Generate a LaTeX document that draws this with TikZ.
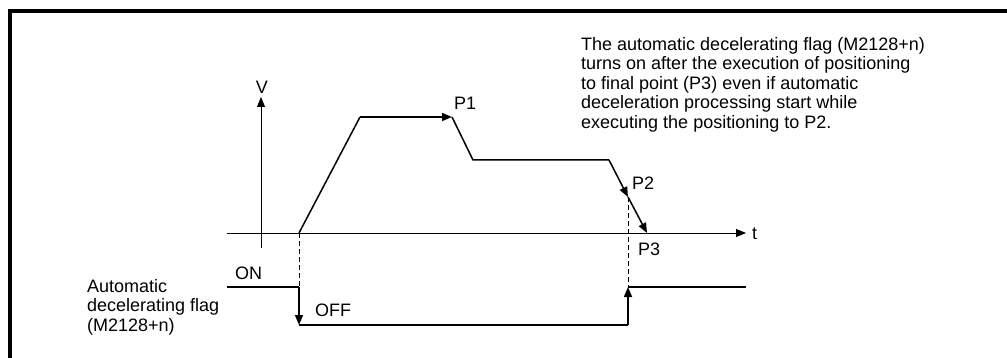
\documentclass[tikz,border=0pt]{standalone}
\usepackage{fontspec}
\setmainfont{Liberation Sans}
\usetikzlibrary{arrows.meta}
\begin{document}
\begin{tikzpicture}[x=1pt,y=-1pt,
  lbl/.style={inner sep=0pt,font=\fontsize{18}{19.5}\selectfont},
  axis/.style={line width=0.9pt},
  prof/.style={line width=1.5pt},
  tip/.style={-{Triangle[length=10pt,width=8pt]}},
  guide/.style={line width=0.7pt,dash pattern=on 5pt off 3pt},
  frame/.style={line width=4pt}]
\useasboundingbox (0,0) rectangle (1007,358);
% frame
\coordinate (fa) at (10,358);
\coordinate (fb) at (10,11);
\coordinate (fc) at (1007,11);
\draw[frame] (fa) -- (fb) -- (fc);
% axes
\coordinate (v0) at (261,248);
\coordinate (v1) at (261,97);
\coordinate (t0) at (227,233);
\coordinate (t1) at (746,233);
\draw[axis,tip] (v0) -- (v1);
\draw[axis,tip] (t0) -- (t1);
\node[lbl] (V) at (262,87) {V};
\node[lbl,anchor=west] (t) at (752,234) {t};
% profile
\coordinate (s) at (299,233);
\coordinate (a) at (360,117);
\coordinate (p1) at (452,117);
\coordinate (b) at (473,160);
\coordinate (c) at (609,160);
\coordinate (p2) at (628,197);
\coordinate (p3) at (647,233);
\draw[prof] (s) -- (a);
\draw[prof,tip] (a) -- (p1);
\draw[prof] (p1) -- (b) -- (c);
\draw[prof,tip] (c) -- (p2);
\draw[prof,tip] (p2) -- (p3);
\node[lbl,anchor=west] (P1) at (454,103) {P1};
\node[lbl,anchor=west] (P2) at (632,183) {P2};
\node[lbl,anchor=west] (P3) at (638,249) {P3};
% flag
\coordinate (f0) at (227,287);
\coordinate (f1) at (299,287);
\coordinate (f2) at (299,325);
\coordinate (f3) at (628,325);
\coordinate (f4) at (628,287);
\coordinate (f5) at (746,287);
\draw[guide] (s) -- (f1);
\draw[guide] (p2) -- (f4);
\draw[prof] (f0) -- (f1);
\draw[prof,tip] (f1) -- (f2);
\draw[prof] (f2) -- (f3);
\draw[prof,tip] (f3) -- (f4);
\draw[prof] (f4) -- (f5);
\node[lbl,anchor=west] (on) at (235,273) {ON};
\node[lbl,anchor=west] (off) at (315,310) {OFF};
\node[lbl,anchor=north west,align=left] (flag) at (87,279) {Automatic\\decelerating flag\\(M2128+n)};
\node[lbl,anchor=north west,align=left] (note) at (581,37) {The automatic decelerating flag (M2128+n)\\turns on after the execution of positioning\\to final point (P3) even if automatic\\deceleration processing start while\\executing the positioning to P2.};
\end{tikzpicture}
\end{document}
